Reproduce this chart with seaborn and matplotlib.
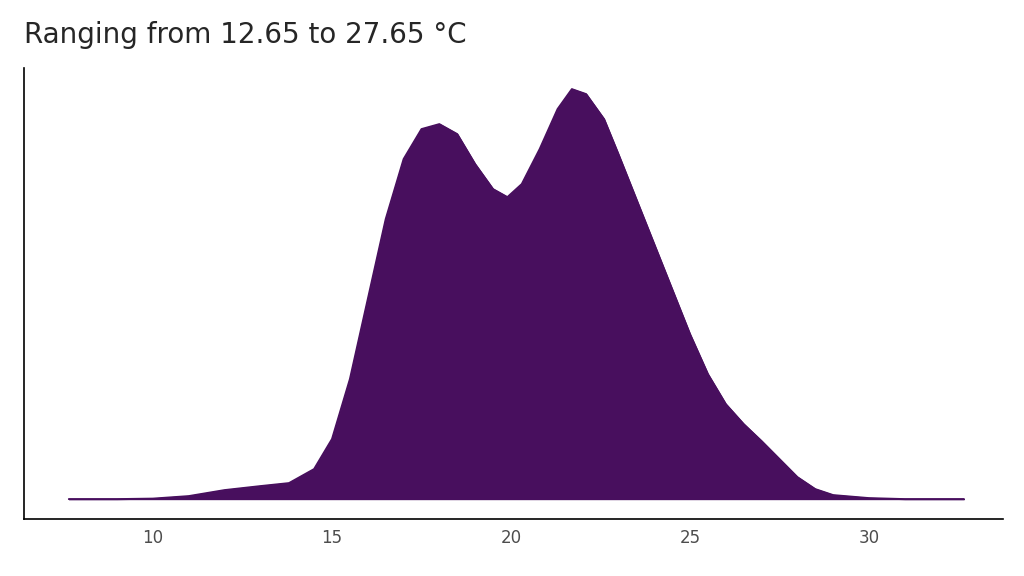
import numpy as np
import matplotlib.pyplot as plt
import pandas as pd
import seaborn as sns

# Density curve of temperature
temp_c = [7.65, 9, 10, 11, 12, 13, 13.8, 14.5, 15, 15.5, 16, 16.5, 17, 17.5, 18,
          18.5, 19, 19.5, 19.9, 20.3, 20.8, 21.3, 21.7, 22.1, 22.6, 23, 23.5, 24,
          24.5, 25, 25.5, 26, 26.5, 27, 27.5, 28, 28.5, 29, 30, 31, 32.65]
density = [0, 0, 0.5, 3, 9, 13, 16, 30, 60, 120, 200, 280, 340, 370, 375,
           365, 335, 310, 302, 315, 350, 390, 410, 405, 380, 345, 300, 255,
           210, 165, 125, 95, 75, 58, 40, 22, 10, 4, 1, 0, 0]
density = [d * 0.0003 for d in density]

df = pd.DataFrame({"temp": temp_c, "density": density})
color = "#480f5e"

sns.set_style("white")
fig = plt.figure(figsize=(10.24, 5.76), dpi=100)
ax = fig.add_axes([0.0234, 0.099, 0.956, 0.783])

sns.lineplot(data=df, x="temp", y="density", color=color, linewidth=1.2, ax=ax)
ax.fill_between(df["temp"], df["density"], color=color)

ax.set_xlim(6.4, 33.74)
ax.set_ylim(-20 * 0.0003, 431 * 0.0003)
ax.set_xticks([10, 15, 20, 25, 30])
ax.set_yticks([])
ax.set_xlabel("")
ax.set_ylabel("")
ax.tick_params(axis="x", labelsize=12, labelcolor="#4d4d4d", length=4, color="black")
sns.despine(ax=ax)
for s in ["left", "bottom"]:
    ax.spines[s].set_color("black")
    ax.spines[s].set_linewidth(1.2)

fig.text(0.0234, 0.94, "Ranging from 12.65 to 27.65 °C", fontsize=20, ha="left", va="center")

plt.savefig("out.png", dpi=100)
